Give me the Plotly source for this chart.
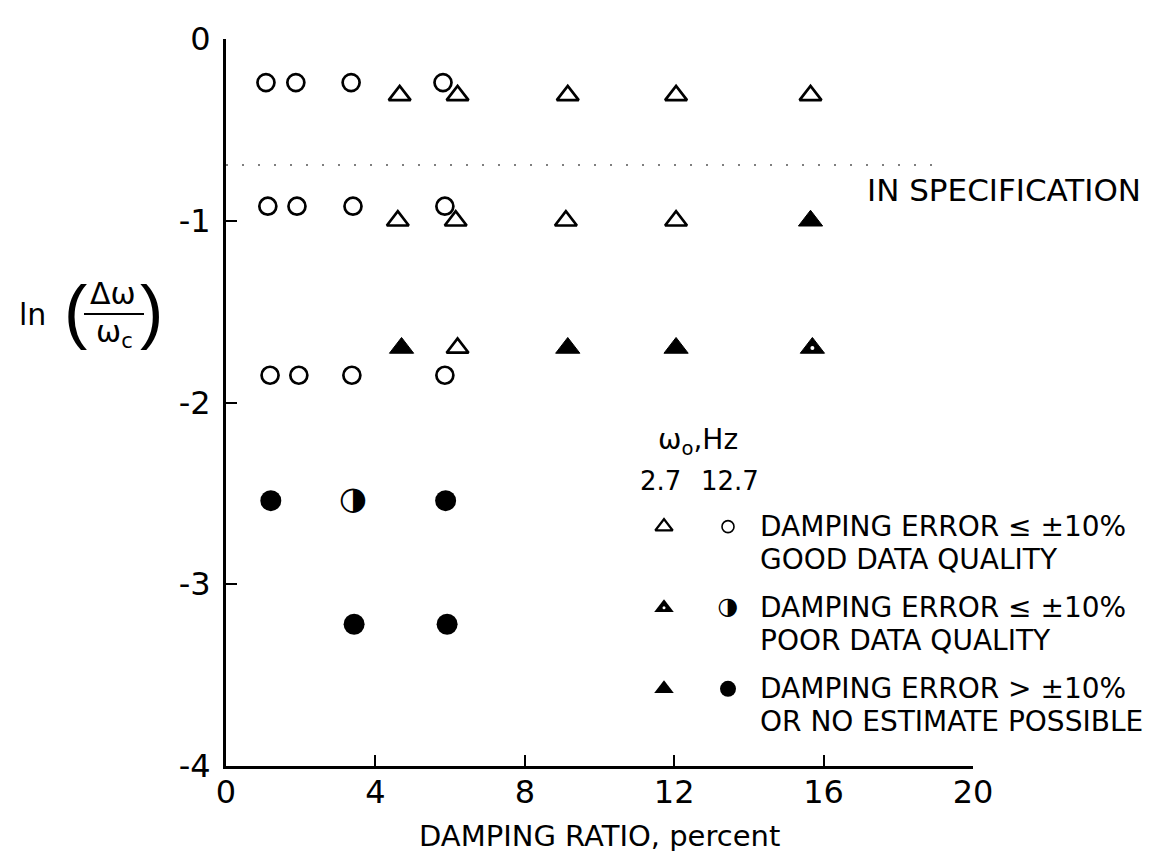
import math
import plotly.graph_objects as go

# ---------------- data (damping ratio in percent, ln(dw/wc)) ----------------
# 2.7 Hz cases (triangles)
tri_good_x = [4.65, 6.20, 9.15, 12.05, 15.65, 4.60, 6.15, 9.10, 12.05, 6.20]
tri_good_y = [-0.31, -0.31, -0.31, -0.31, -0.31, -1.00, -1.00, -1.00, -1.00, -1.70]
tri_poor_x = [15.70]
tri_poor_y = [-1.70]
tri_bad_x = [15.65, 4.70, 9.15, 12.05]
tri_bad_y = [-1.00, -1.70, -1.70, -1.70]

# 12.7 Hz cases (circles)
circ_good_x = [1.07, 1.87, 3.35, 5.81, 1.12, 1.90, 3.40, 5.86, 1.18, 1.95, 3.37, 5.86]
circ_good_y = [-0.24, -0.24, -0.24, -0.24, -0.92, -0.92, -0.92, -0.92, -1.85, -1.85, -1.85, -1.85]
circ_poor_x = [3.40]
circ_poor_y = [-2.54]
circ_bad_x = [1.20, 5.88, 3.43, 5.92]
circ_bad_y = [-2.54, -2.54, -3.22, -3.22]

# "in specification" boundary: ln(0.5)
spec_level = math.log(0.5)
spec_x = [0.0, 19.2]

x_ticks = [0, 4, 8, 12, 16, 20]
y_ticks = [0, -1, -2, -3, -4]
y_ticktext = ["0", "-1", "-2", "-3", "-4"]

legend_lines = [
    ["DAMPING ERROR \u2264 \u00b110%", "GOOD DATA QUALITY"],
    ["DAMPING ERROR \u2264 \u00b110%", "POOR DATA QUALITY"],
    ["DAMPING ERROR > \u00b110%", "OR NO ESTIMATE POSSIBLE"],
]
legend_freqs = ["2.7", "12.7"]

# ---------------- layout geometry ----------------
W, H = 1166, 851
ML, MR, MT, MB = 218, 201, 23, 93
PW, PH = W - ML - MR, H - MT - MB
FONT = "DejaVu Sans"


def px(xp):
    return (xp - ML) / PW


def py(yp):
    return (H - MB - yp) / PH


def dx(xp):
    return (xp - ML) / PW * 20.0


def dy(yp):
    return -(yp - MT) / PH * 4.0


fig = go.Figure()

# spec line
fig.add_trace(go.Scatter(x=spec_x, y=[spec_level, spec_level], mode="lines",
                         line=dict(color="#555", width=1.5, dash="2px,14px"),
                         hoverinfo="skip", showlegend=False))

LW = 2.7
fig.add_trace(go.Scatter(x=tri_good_x, y=tri_good_y, mode="markers",
                         marker=dict(symbol="triangle-up-open", size=19, color="black",
                                     line=dict(color="black", width=LW)), showlegend=False))
fig.add_trace(go.Scatter(x=tri_bad_x + tri_poor_x, y=tri_bad_y + tri_poor_y, mode="markers",
                         marker=dict(symbol="triangle-up", size=21, color="black",
                                     line=dict(color="black", width=1)), showlegend=False))
fig.add_trace(go.Scatter(x=tri_poor_x, y=tri_poor_y, mode="markers",
                         marker=dict(symbol="circle", size=4, color="white",
                                     line=dict(width=0)), showlegend=False))
fig.add_trace(go.Scatter(x=circ_good_x, y=circ_good_y, mode="markers",
                         marker=dict(symbol="circle-open", size=17, color="black",
                                     line=dict(color="black", width=LW)), showlegend=False))
fig.add_trace(go.Scatter(x=circ_bad_x, y=circ_bad_y, mode="markers",
                         marker=dict(symbol="circle", size=21, color="black",
                                     line=dict(width=0)), showlegend=False))
fig.add_trace(go.Scatter(x=circ_poor_x, y=circ_poor_y, mode="text", text=["\u25d1"],
                         textposition="middle center",
                         textfont=dict(family=FONT, size=32, color="black"), showlegend=False))

# legend keys (inside the plot, lower right)
key_tri_x = dx(656)
key_circ_x = dx(720)
row_y = [516, 598, 680]
line_gap = 33
fig.add_trace(go.Scatter(x=[key_tri_x], y=[dy(row_y[0])], mode="markers",
                         marker=dict(symbol="triangle-up-open", size=15, color="black",
                                     line=dict(color="black", width=2.4)), showlegend=False))
fig.add_trace(go.Scatter(x=[key_circ_x], y=[dy(row_y[0])], mode="markers",
                         marker=dict(symbol="circle-open", size=12, color="black",
                                     line=dict(color="black", width=1.6)), showlegend=False))
fig.add_trace(go.Scatter(x=[key_tri_x, key_tri_x], y=[dy(row_y[1]), dy(row_y[2])], mode="markers",
                         marker=dict(symbol="triangle-up", size=17, color="black",
                                     line=dict(width=0)), showlegend=False))
fig.add_trace(go.Scatter(x=[key_tri_x], y=[dy(row_y[1])], mode="markers",
                         marker=dict(symbol="circle", size=3, color="white",
                                     line=dict(width=0)), showlegend=False))
fig.add_trace(go.Scatter(x=[key_circ_x], y=[dy(row_y[1])], mode="text", text=["\u25d1"],
                         textposition="middle center",
                         textfont=dict(family=FONT, size=24, color="black"), showlegend=False))
fig.add_trace(go.Scatter(x=[key_circ_x], y=[dy(row_y[2])], mode="markers",
                         marker=dict(symbol="circle", size=16, color="black",
                                     line=dict(width=0)), showlegend=False))

ann = []


def text(x, y, t, size=28, xanchor="center", yanchor="middle", family=FONT):
    ann.append(dict(x=px(x), y=py(y), xref="paper", yref="paper", text=t, showarrow=False,
                    xanchor=xanchor, yanchor=yanchor, align="left",
                    font=dict(family=family, size=size, color="black")))


# legend texts
text(690, 430, "\u03c9<sub>o</sub>,Hz", size=28)
text(652, 470, legend_freqs[0], size=26)
text(722, 470, legend_freqs[1], size=26)
for ry, lines in zip(row_y, legend_lines):
    text(750, ry, lines[0], size=28, xanchor="left")
    text(750, ry + line_gap, lines[1], size=28, xanchor="left")

text(996, 176, "IN SPECIFICATION", size=31)

# x title
text(591, 829, "DAMPING RATIO, percent", size=29)

# y title: ln( dw / wc )
text(24, 302, "ln", size=30)
text(67, 298, "(", size=70, family="Liberation Sans")
text(143, 298, ")", size=70, family="Liberation Sans")
text(105, 280, "\u0394\u03c9", size=30)
text(106, 321, "\u03c9<sub>c</sub>", size=30)
shapes = [dict(type="line", xref="paper", yref="paper", x0=px(76), x1=px(136),
               y0=py(301), y1=py(301), line=dict(color="black", width=2))]

fig.update_layout(
    width=W, height=H,
    margin=dict(l=ML, r=MR, t=MT, b=MB),
    paper_bgcolor="white", plot_bgcolor="white",
    font=dict(family=FONT, color="black"),
    annotations=ann, shapes=shapes, showlegend=False,
    xaxis=dict(range=[0, 20], tickvals=x_ticks, ticks="inside", ticklen=11, tickwidth=2,
               tickcolor="black", showline=True, linecolor="black", linewidth=2.5,
               showgrid=False, zeroline=False, tickfont=dict(family=FONT, size=32),
               ticklabelstandoff=-4),
    yaxis=dict(range=[-4, 0], tickvals=y_ticks, ticktext=y_ticktext, ticks="inside",
               ticklen=11, tickwidth=2, tickcolor="black", showline=True,
               linecolor="black", linewidth=3, showgrid=False, zeroline=False,
               tickfont=dict(family=FONT, size=32), ticklabelstandoff=6),
)

fig.write_html("out.html")
